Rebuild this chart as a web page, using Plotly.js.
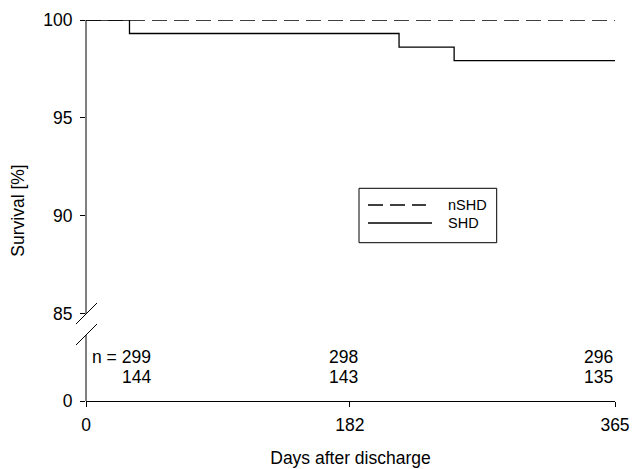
<!DOCTYPE html>
<html>
<head>
<meta charset="utf-8">
<script src="https://cdn.plot.ly/plotly-3.0.1.min.js"></script>
<style>html,body{margin:0;padding:0;background:#fff;}#chart{width:632px;height:469px;}</style>
</head>
<body>
<div id="chart"></div>
<script>
// ---- data ----
var nshdDays = [0, 365];
var nshdSurvival = [100, 100];
var shdDays = [0, 30, 216, 254, 365];
var shdSurvival = [100, 99.31, 98.61, 97.92, 97.92];
var riskDays = [0, 182, 365];
var nshdAtRisk = [299, 298, 296];
var shdAtRisk = [144, 143, 135];
var xTickVals = [0, 182, 365];
var yTickLabels = ['0', '85', '90', '95', '100'];
var seriesNames = ['nSHD', 'SHD'];

// ---- broken-axis mapping (0 is drawn below the break) ----
var zeroPos = 80.528;      // where value 0 sits on the axis
var breakTop = 85;
var yTickVals = [zeroPos, 85, 90, 95, 100];

// pixel helpers for layout decorations
var L = 86, R = 615, T = 20, B = 401;
function px(xp) { return (xp - L) / (R - L); }
function py(yp) { return (B - yp) / (B - T); }

var FAM = 'Liberation Sans, Arial, sans-serif';
function f(size) { return {family: FAM, color: '#000', size: size}; }
var LW = 1.3;

var traces = [
  {x: nshdDays, y: nshdSurvival, mode: 'lines', name: seriesNames[0],
   line: {color: '#000', width: LW, dash: '15px,7px'}, showlegend: false, cliponaxis: false},
  {x: shdDays, y: shdSurvival, mode: 'lines', name: seriesNames[1],
   line: {color: '#000', width: LW, shape: 'hv'}, showlegend: false, cliponaxis: false}
];

var shapes = [
  // y axis line above and below the break
  {type: 'line', xref: 'paper', yref: 'paper', x0: 0, x1: 0, y0: py(314), y1: 1, line: {color: '#000', width: 1}},
  {type: 'line', xref: 'paper', yref: 'paper', x0: 0, x1: 0, y0: 0, y1: py(335), line: {color: '#000', width: 1}},
  // break marks
  {type: 'line', xref: 'paper', yref: 'paper', xsizemode: 'pixel', ysizemode: 'pixel', xanchor: 0, yanchor: py(314),
   x0: -10, x1: 11, y0: -10, y1: 11, line: {color: '#000', width: 1}},
  {type: 'line', xref: 'paper', yref: 'paper', xsizemode: 'pixel', ysizemode: 'pixel', xanchor: 0, yanchor: py(314),
   x0: -10, x1: 11, y0: -31, y1: -10, line: {color: '#000', width: 1}},
  // legend box and samples
  {type: 'rect', xref: 'paper', yref: 'paper', x0: px(359), x1: px(496.7), y0: py(242.7), y1: py(188.3),
   line: {color: '#000', width: 1}, fillcolor: 'rgba(0,0,0,0)'},
  {type: 'line', xref: 'paper', yref: 'paper', x0: px(368), x1: px(426), y0: py(205), y1: py(205),
   line: {color: '#000', width: LW, dash: '15px,7px'}},
  {type: 'line', xref: 'paper', yref: 'paper', x0: px(368), x1: px(432), y0: py(223), y1: py(223),
   line: {color: '#000', width: LW}}
];

var annotations = [];
var riskX = [46, 189, 365];
for (var i = 0; i < riskDays.length; i++) {
  annotations.push({xref: 'x', yref: 'paper', x: riskX[i], y: py(357), xanchor: 'right', yanchor: 'middle',
    text: (i === 0 ? 'n = ' : '') + nshdAtRisk[i], showarrow: false, font: f(17.5)});
  annotations.push({xref: 'x', yref: 'paper', x: riskX[i], y: py(376.7), xanchor: 'right', yanchor: 'middle',
    text: String(shdAtRisk[i]), showarrow: false, font: f(17.5)});
}
annotations.push({xref: 'paper', yref: 'paper', x: px(446), y: py(205), xanchor: 'left', yanchor: 'middle',
  text: seriesNames[0], showarrow: false, font: f(14.5)});
annotations.push({xref: 'paper', yref: 'paper', x: px(446), y: py(223), xanchor: 'left', yanchor: 'middle',
  text: seriesNames[1], showarrow: false, font: f(14.5)});

var layout = {
  width: 632, height: 469,
  margin: {l: L, r: 632 - R, t: T, b: 469 - B},
  paper_bgcolor: '#fff', plot_bgcolor: '#fff',
  font: f(17.5),
  showlegend: false,
  xaxis: {
    range: [0, 365], tickmode: 'array', tickvals: xTickVals, ticktext: xTickVals.map(String),
    ticks: 'outside', ticklen: 5, tickcolor: '#000', tickwidth: 1,
    showline: true, linecolor: '#000', linewidth: 1, showgrid: false, zeroline: false,
    tickfont: f(17.5), ticklabelstandoff: 3,
    title: {text: 'Days after discharge', font: f(17.5), standoff: 17.1}
  },
  yaxis: {
    range: [zeroPos, 100], tickmode: 'array', tickvals: yTickVals, ticktext: yTickLabels,
    ticks: 'outside', ticklen: 5, tickcolor: '#000', tickwidth: 1,
    showline: false, showgrid: false, zeroline: false,
    tickfont: f(17.5), ticklabelstandoff: 4,
    title: {text: 'Survival [%]', font: f(17.5), standoff: 13.2}
  },
  shapes: shapes,
  annotations: annotations
};

Plotly.newPlot('chart', traces, layout, {displayModeBar: false, staticPlot: true});
</script>
</body>
</html>
